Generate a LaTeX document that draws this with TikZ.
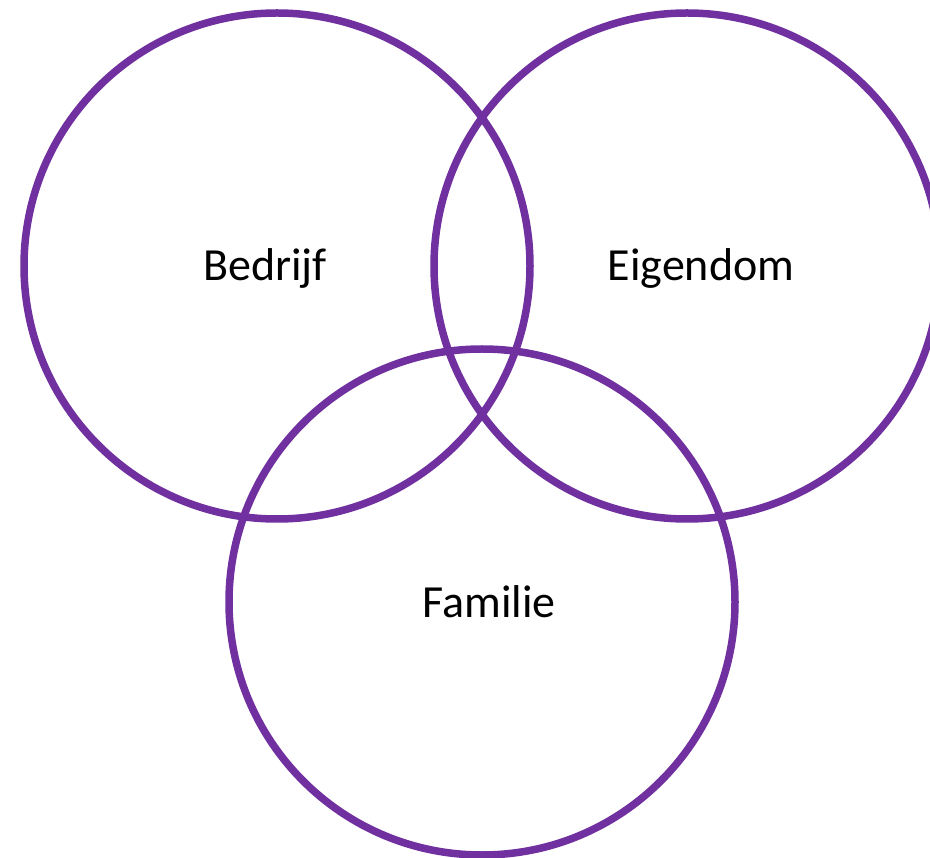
\documentclass[tikz,border=0pt]{standalone}
\usepackage{fontspec}
\setmainfont{Carlito}
\definecolor{venn}{HTML}{7030A0}

\begin{document}
\begin{tikzpicture}[x=1pt, y=-1pt,
  ring/.style={draw=venn, line width=7.5pt},
  label/.style={font=\fontsize{46}{54}\selectfont, inner sep=0pt, anchor=base}]
  \useasboundingbox (0, 0) rectangle (930, 858);
  \coordinate (cB) at (277, 266);
  \coordinate (cE) at (687, 266);
  \coordinate (cF) at (482, 602);
  \draw[ring] (cB) circle[radius=253];
  \draw[ring] (cE) circle[radius=253];
  \draw[ring] (cF) circle[radius=253];
  \node[label] at (265, 281) (bedrijf) {Bedrijf};
  \node[label] at (701, 281) (eigendom) {Eigendom};
  \node[label] at (489, 618) (familie) {Familie};
\end{tikzpicture}
\end{document}
